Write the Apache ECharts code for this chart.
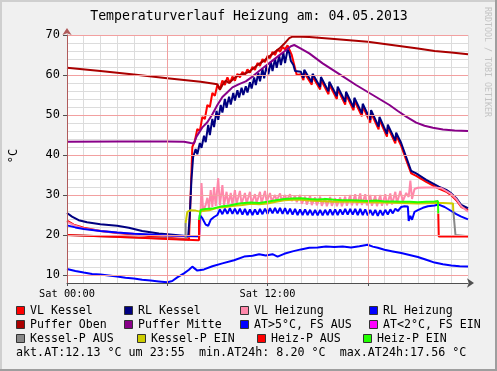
<!DOCTYPE html>
<html><head><meta charset="utf-8">
<script src="https://cdn.jsdelivr.net/npm/echarts@6/dist/echarts.min.js"></script>
<style>html,body{margin:0;padding:0;background:#f0f0f0;overflow:hidden}#c{width:497px;height:371px}</style>
</head><body><div id="c"></div><script>
// ---- data (hours since Sat 00:00, °C) ----
const vlKessel = [[0,23.6],[0.4,22.6],[1,21.8],[2,21.0],[3,20.5],[4,20.1],[5,19.7],[6,19.3],[7.0,19.0],[7.3,18.9],[7.4,30.0],[7.5,42.0],[7.65,43.5],[7.8,46.5],[7.95,46.0],[8.1,49.5],[8.25,49.0],[8.4,52.5],[8.55,52.0],[8.7,55.5],[8.85,54.8],[9.0,57.5],[9.15,56.5],[9.3,58.6],[9.45,57.5],[9.6,59.4],[9.75,58.0],[9.9,59.6],[10.05,58.6],[10.2,60.3],[10.35,59.4],[10.5,60.8],[10.65,60.0],[10.8,61.4],[10.95,60.6],[11.1,62.0],[11.25,61.3],[11.4,63.0],[11.55,62.3],[11.7,64.0],[11.85,63.2],[12.0,64.8],[12.15,64.2],[12.3,65.8],[12.45,65.0],[12.6,66.4],[12.75,65.8],[12.9,67.0],[13.05,66.4],[13.2,67.4],[13.3,67.0],[13.45,65.0],[13.6,62.5],[13.75,60.0],[14.0,60.2],[14.15,58.7],[14.2,60.6],[14.65,57.6],[14.7,59.6],[15.15,56.4],[15.2,58.8],[15.65,55.2],[15.7,57.6],[16.15,54.0],[16.2,56.4],[16.65,52.6],[16.7,55.1],[17.15,51.2],[17.2,53.6],[17.65,49.7],[17.7,52.1],[18.15,48.1],[18.2,50.5],[18.65,46.4],[18.7,48.8],[19.15,44.6],[19.2,46.9],[19.65,42.9],[19.7,44.9],[20.0,42.3],[20.3,38.8],[20.6,35.4],[20.9,34.8],[21.5,33.3],[22.25,31.6],[22.7,30.8],[23.0,29.9],[23.3,28.7],[23.6,27.0],[24.0,26.3]];
const rlKessel = [[0,25.5],[0.3,24.6],[0.7,23.7],[1.2,23.2],[2,22.7],[3,22.3],[3.7,21.8],[4.5,21.0],[5.5,20.4],[6.5,20.0],[7.1,19.7],[7.25,19.5],[7.35,25.0],[7.45,34.0],[7.55,39.5],[7.7,41.5],[7.8,40.2],[7.95,43.0],[8.05,41.8],[8.2,44.8],[8.3,43.2],[8.45,47.5],[8.55,45.0],[8.7,49.0],[8.8,47.0],[8.95,51.0],[9.05,48.8],[9.2,52.5],[9.3,50.6],[9.45,54.0],[9.55,51.8],[9.7,54.6],[9.8,52.6],[9.95,55.5],[10.05,53.6],[10.2,56.2],[10.3,54.4],[10.45,56.8],[10.55,55.0],[10.7,57.2],[10.8,55.6],[10.95,58.2],[11.05,56.6],[11.2,59.4],[11.3,57.5],[11.45,60.5],[11.55,58.4],[11.7,61.5],[11.8,59.2],[11.95,62.4],[12.05,60.2],[12.2,63.3],[12.3,61.0],[12.45,64.1],[12.55,61.8],[12.7,64.8],[12.8,62.5],[12.95,65.5],[13.05,63.0],[13.2,66.3],[13.3,65.5],[13.4,63.5],[13.55,62.5],[13.65,61.0],[13.75,60.5],[14.0,60.8],[14.15,59.3],[14.2,61.3],[14.65,58.2],[14.7,60.3],[15.15,57.0],[15.2,59.5],[15.65,55.9],[15.7,58.3],[16.15,54.7],[16.2,57.1],[16.65,53.3],[16.7,55.8],[17.15,51.9],[17.2,54.3],[17.65,50.4],[17.7,52.8],[18.15,48.8],[18.2,51.2],[18.65,47.1],[18.7,49.5],[19.15,45.3],[19.2,47.6],[19.65,43.6],[19.7,45.6],[20.0,43.0],[20.3,39.5],[20.6,36.0],[20.9,35.4],[21.5,33.8],[22.25,32.1],[22.7,31.3],[23.0,30.4],[23.3,29.2],[23.6,27.5],[24.0,26.7]];
const vlHeizung = [[0,23.3],[0.5,22.3],[1,21.6],[2,21.0],[3,20.6],[4,20.3],[5,20.0],[6,19.8],[7,19.6],[7.95,19.6],[8.05,33.0],[8.15,26.0],[8.3,27.5],[8.4,29.3],[8.5,26.8],[8.6,31.2],[8.7,27.0],[8.8,32.0],[8.9,27.2],[9.05,34.2],[9.15,27.4],[9.3,32.5],[9.4,27.5],[9.55,30.8],[9.65,27.6],[9.8,30.5],[9.9,27.6],[10.05,31.2],[10.15,27.8],[10.35,31.0],[10.45,27.8],[10.65,30.5],[10.75,27.9],[10.95,30.8],[11.05,27.9],[11.25,30.2],[11.35,28.0],[11.55,30.8],[11.65,28.0],[11.85,31.0],[11.95,28.2],[12.15,30.5],[12.25,28.4],[12.45,30.0],[12.55,28.6],[12.75,30.4],[12.85,28.6],[13.05,30.0],[13.15,28.7],[13.35,30.2],[13.45,28.5],[13.65,29.8],[13.75,28.2],[13.95,30.0],[14.05,27.8],[14.25,29.6],[14.35,27.6],[14.55,29.8],[14.65,27.5],[14.85,29.4],[14.95,27.4],[15.15,29.6],[15.25,27.3],[15.45,29.2],[15.55,27.2],[15.75,29.5],[15.85,27.3],[16.05,29.2],[16.15,27.2],[16.35,29.4],[16.45,27.2],[16.65,29.6],[16.75,27.3],[16.95,30.0],[17.05,27.4],[17.25,30.2],[17.35,27.4],[17.55,30.4],[17.65,27.5],[17.85,30.2],[17.95,27.4],[18.15,30.0],[18.25,27.3],[18.45,29.8],[18.55,27.2],[18.75,30.0],[18.85,27.3],[19.05,30.2],[19.15,27.4],[19.35,30.4],[19.45,27.6],[19.65,30.8],[19.75,28.0],[19.95,31.0],[20.1,28.5],[20.3,30.5],[20.45,29.5],[20.55,33.6],[20.65,29.0],[20.8,31.5],[21.0,31.8],[21.5,31.9],[22.0,31.9],[22.4,31.7],[22.7,31.0],[23.0,30.2],[23.3,29.0],[23.6,27.2],[24.0,25.8]];
const rlHeizung = [[0,22.4],[0.5,21.9],[1,21.5],[2,21.0],[3,20.6],[4,20.3],[5,20.1],[6,19.9],[7,19.8],[7.9,19.7],[7.95,25.0],[8.1,24.2],[8.3,22.6],[8.45,22.3],[8.6,23.8],[8.8,24.5],[9.0,25.0],[9.15,26.4],[9.3,25.2],[9.45,26.6],[9.6,25.3],[9.75,26.7],[9.9,25.3],[10.05,26.6],[10.2,25.2],[10.35,26.6],[10.5,25.1],[10.65,26.5],[10.8,25.0],[10.95,26.4],[11.1,25.0],[11.25,26.4],[11.4,25.1],[11.55,26.5],[11.7,25.2],[11.85,26.6],[12.0,25.3],[12.15,26.7],[12.3,25.4],[12.45,26.8],[12.6,25.4],[12.75,26.8],[12.9,25.3],[13.05,26.7],[13.2,25.2],[13.35,26.6],[13.5,25.1],[13.65,26.5],[13.8,25.0],[13.95,26.4],[14.1,25.0],[14.25,26.4],[14.4,25.0],[14.55,26.3],[14.7,24.9],[14.85,26.3],[15.0,24.9],[15.15,26.3],[15.3,24.9],[15.45,26.3],[15.6,25.0],[15.75,26.4],[15.9,25.0],[16.05,26.4],[16.2,25.0],[16.35,26.4],[16.5,25.1],[16.65,26.5],[16.8,25.1],[16.95,26.5],[17.1,25.1],[17.25,26.5],[17.4,25.0],[17.55,26.5],[17.7,25.0],[17.85,26.4],[18.0,24.9],[18.15,26.3],[18.3,24.9],[18.45,26.3],[18.6,24.8],[18.75,26.2],[18.9,24.9],[19.05,26.3],[19.2,25.1],[19.35,26.4],[19.5,25.4],[19.65,26.6],[19.8,26.0],[20.0,27.0],[20.2,27.2],[20.4,27.1],[20.45,23.5],[20.55,24.8],[20.65,23.8],[20.8,25.8],[21.0,26.2],[21.3,26.8],[21.6,27.2],[22.0,27.4],[22.25,27.6],[22.6,27.0],[23.0,26.0],[23.3,25.2],[23.6,24.6],[24.0,23.9]];
const pufferOben = [[0,61.8],[2,61.0],[4,60.1],[6,59.2],[8,58.3],[9.0,57.7],[9.15,56.3],[9.3,57.5],[9.5,58.6],[9.7,58.0],[10.0,59.2],[10.3,60.0],[10.6,60.3],[10.9,60.8],[11.2,61.8],[11.5,62.8],[11.8,63.6],[12.1,64.6],[12.4,65.6],[12.7,66.6],[13.0,67.8],[13.3,69.2],[13.5,69.6],[14.5,69.5],[16,69.0],[18,68.3],[20,67.2],[21,66.6],[22,66.0],[23,65.6],[24,65.2]];
const pufferMitte = [[0,43.3],[3,43.4],[6,43.4],[7.0,43.3],[7.4,43.0],[7.6,42.9],[7.75,44.6],[8.1,46.9],[8.4,48.2],[8.7,50.2],[9.0,52.5],[9.3,54.5],[9.6,55.7],[9.9,56.9],[10.3,57.7],[10.7,58.4],[11.1,59.6],[11.5,61.0],[11.9,62.3],[12.3,63.6],[12.7,64.9],[13.1,66.2],[13.4,67.2],[13.6,67.5],[14.0,66.6],[14.5,65.4],[15.3,62.9],[16.3,60.2],[17.3,57.5],[18.3,55.0],[19.3,52.5],[19.8,51.0],[20.3,49.6],[20.9,48.1],[21.4,47.3],[21.9,46.8],[22.5,46.4],[23.2,46.1],[24,46.0]];
const aussenTemp = [[0,11.5],[0.5,11.0],[1,10.6],[1.5,10.25],[2,10.1],[2.5,9.9],[3,9.6],[3.5,9.3],[4,9.1],[4.5,8.8],[5,8.6],[5.5,8.4],[6,8.2],[6.3,8.5],[6.6,9.4],[7,10.4],[7.3,11.3],[7.5,12.1],[7.6,11.6],[7.8,11.1],[8.2,11.4],[8.7,12.2],[9.3,12.9],[10,13.7],[10.6,14.6],[11.1,14.8],[11.5,15.2],[11.9,14.9],[12.3,15.2],[12.6,14.6],[13,15.3],[13.5,15.9],[14,16.4],[14.5,16.8],[15,16.9],[15.5,17.1],[16,17.0],[16.5,17.1],[17,16.9],[17.5,17.2],[18,17.56],[18.3,17.1],[18.6,16.8],[19,16.3],[19.5,15.9],[20,15.5],[20.5,15.0],[21,14.5],[21.5,13.8],[22,13.1],[22.5,12.7],[23,12.4],[23.5,12.2],[24,12.13]];
const kesselPAus1 = [[0,20.0],[2,19.7],[4,19.4],[6,19.1],[7.1,18.9],[7.1,23.0]];
const kesselPEin = [[7.1,23.0],[7.2,25.8],[7.4,26.2],[7.7,26.1],[7.9,25.9],[8.0,26.2],[8.5,26.2],[9,26.8],[9.5,27.0],[10,27.3],[10.5,27.5],[11,27.8],[11.5,27.7],[12,27.9],[12.5,28.3],[13,28.7],[13.5,28.8],[14,28.8],[14.5,28.6],[15,28.5],[16,28.3],[17,28.3],[18,28.2],[19,28.1],[20,28.0],[21,27.9],[22,28.0],[22.5,28.0],[23.1,27.9],[23.12,26.0]];
const kesselPAus2 = [[23.12,26.0],[23.25,20.0],[24,19.7]];
const heizPAus1 = [[0,20.0],[2,19.7],[4,19.4],[6,19.0],[7.9,18.7],[7.9,23.8]];
const heizPEin = [[7.9,23.8],[8.0,26.3],[8.3,26.5],[8.7,26.6],[9.2,27.1],[9.7,27.4],[10.3,27.9],[11,28.1],[11.5,28.0],[12,28.3],[12.5,28.7],[13,29.0],[13.5,29.1],[14,29.2],[14.5,29.0],[15,28.9],[15.5,29.0],[16,28.8],[16.5,28.7],[17,28.7],[17.5,28.6],[18,28.5],[18.5,28.6],[19,28.4],[19.5,28.4],[20,28.3],[20.5,28.3],[21,28.2],[21.5,28.3],[22.0,28.4],[22.2,28.5],[22.22,25.4]];
const heizPAus2 = [[22.22,25.4],[22.25,19.6],[24,19.6]];

const yLabelValues = [10,20,30,40,50,60,70];
const xMajorValues = [0,6,12,18];
const xLabelValues = [0,12];
const xLabelTexts = ['Sat 00:00','Sat 12:00'];
const legendNames = ['VL Kessel','RL Kessel','VL Heizung','RL Heizung','Puffer Oben','Puffer Mitte','AT>5°C, FS AUS','AT<2°C, FS EIN','Kessel-P AUS','Kessel-P EIN','Heiz-P AUS','Heiz-P EIN'];
const legendColors = ['#ff0000','#000080','#ff88aa','#0000ff','#aa0000','#880088','#0000ff','#ff00ff','#888888','#cccc00','#ff0000','#22ff00'];
const statsLine = 'akt.AT:12.13 °C um 23:55  min.AT24h: 8.20 °C  max.AT24h:17.56 °C';
const titleText = 'Temperaturverlauf Heizung am: 04.05.2013';

// ---- layout / style ----
const FONT = 'DejaVu Sans Mono';
const MINOR = '#dcdcdc', MAJOR = '#f2a0a0';
const legendPos = [[16,311],[124,311],[240,311],[369,311],[16,325],[124,325],[240,325],[369,325],[16,339],[137,339],[257,339],[363,339]];

const chart = echarts.init(document.getElementById('c'), null, {renderer:'canvas'});

function ser(data, color, name){
  return {type:'line', name:name, data:data, showSymbol:false, symbol:'none', lineStyle:{color:color, width:2}, itemStyle:{color:color}, animation:false, silent:true, z:3};
}

const graphics = [
  {type:'rect', shape:{x:0,y:0,width:497,height:2}, style:{fill:'#cfcfcf'}, silent:true},
  {type:'rect', shape:{x:0,y:0,width:2,height:371}, style:{fill:'#cfcfcf'}, silent:true},
  {type:'rect', shape:{x:0,y:369,width:497,height:2}, style:{fill:'#9e9e9e'}, silent:true},
  {type:'rect', shape:{x:495,y:0,width:2,height:371}, style:{fill:'#9e9e9e'}, silent:true},
  {type:'text', x:249, y:17, style:{text:titleText, font:'13.2px "'+FONT+'"', fill:'#000', align:'center', verticalAlign:'middle'}, silent:true},
  {type:'text', x:487, y:62, rotation:-Math.PI/2, style:{text:'RRDTOOL / TOBI OETIKER', font:'8.3px "'+FONT+'"', fill:'#c4c4c4', align:'center', verticalAlign:'middle'}, silent:true},
  {type:'text', x:14, y:156, rotation:Math.PI/2, style:{text:'°C', font:'12px "'+FONT+'"', fill:'#000', align:'center', verticalAlign:'middle'}, silent:true},
  {type:'text', x:16, y:353, style:{text:statsLine, font:'11.7px "'+FONT+'"', fill:'#000', align:'left', verticalAlign:'middle'}, silent:true}
];
legendNames.forEach(function(n,i){
  const p = legendPos[i];
  graphics.push({type:'rect', shape:{x:p[0]+0.5,y:p[1]-4.5,width:8,height:8}, style:{fill:legendColors[i], stroke:'#333', lineWidth:1}, silent:true});
  graphics.push({type:'text', x:p[0]+14, y:p[1], style:{text:n, font:'11.6px "'+FONT+'"', fill:'#000', align:'left', verticalAlign:'middle'}, silent:true});
});

const option = {
  backgroundColor:'#f0f0f0',
  animation:false,
  grid:{left:67, top:35, width:401, height:248, show:true, backgroundColor:'#ffffff', borderWidth:0, containLabel:false},
  xAxis:[
    {type:'value', min:0, max:24, interval:1,
      axisLine:{show:true, onZero:false, lineStyle:{color:'#505050', width:1}, symbol:['none','arrow'], symbolSize:[7,7], symbolOffset:[0,6]},
      axisTick:{show:true, customValues:xMajorValues, length:3, lineStyle:{color:'#505050'}},
      axisLabel:{show:true, customValues:xLabelValues, formatter:function(v){const i=xLabelValues.indexOf(v); return i>=0?xLabelTexts[i]:'';}, fontFamily:FONT, fontSize:10.3, color:'#000', margin:6},
      splitLine:{show:true, lineStyle:{color:MAJOR, width:1}}, z:5},
    {type:'value', min:0, max:24, interval:1, axisLine:{show:false}, axisLabel:{show:false}, axisTick:{show:false},
      splitLine:{show:true, lineStyle:{color:MINOR, width:1}}, z:0}
  ],
  yAxis:[
    {type:'value', min:8, max:70, interval:2,
      axisLine:{show:true, onZero:false, lineStyle:{color:'#b05a5a', width:1}, symbol:['none','arrow'], symbolSize:[7,7], symbolOffset:[0,7]},
      axisTick:{show:true, customValues:yLabelValues, length:4, lineStyle:{color:'#505050'}},
      axisLabel:{show:true, customValues:yLabelValues, fontFamily:FONT, fontSize:12, color:'#000', margin:7},
      splitLine:{show:true, lineStyle:{color:MAJOR, width:1}}, z:5},
    {type:'value', min:8, max:70, interval:2, axisLine:{show:false}, axisLabel:{show:false}, axisTick:{show:false},
      splitLine:{show:true, lineStyle:{color:MINOR, width:1}}, z:0}
  ],
  graphic:graphics,
  series:[
    ser(vlKessel, legendColors[0], 'VL Kessel'),
    ser(rlKessel, legendColors[1], 'RL Kessel'),
    ser(vlHeizung, legendColors[2], 'VL Heizung'),
    ser(rlHeizung, legendColors[3], 'RL Heizung'),
    ser(pufferOben, legendColors[4], 'Puffer Oben'),
    ser(pufferMitte, legendColors[5], 'Puffer Mitte'),
    ser(aussenTemp, legendColors[6], 'AT>5°C, FS AUS'),
    ser(kesselPAus1, legendColors[8], 'Kessel-P AUS'),
    ser(kesselPAus2, legendColors[8], 'Kessel-P AUS'),
    ser(kesselPEin, legendColors[9], 'Kessel-P EIN'),
    ser(heizPAus1, legendColors[10], 'Heiz-P AUS'),
    ser(heizPAus2, legendColors[10], 'Heiz-P AUS'),
    ser(heizPEin, legendColors[11], 'Heiz-P EIN')
  ]
};
chart.setOption(option);
</script></body></html>
